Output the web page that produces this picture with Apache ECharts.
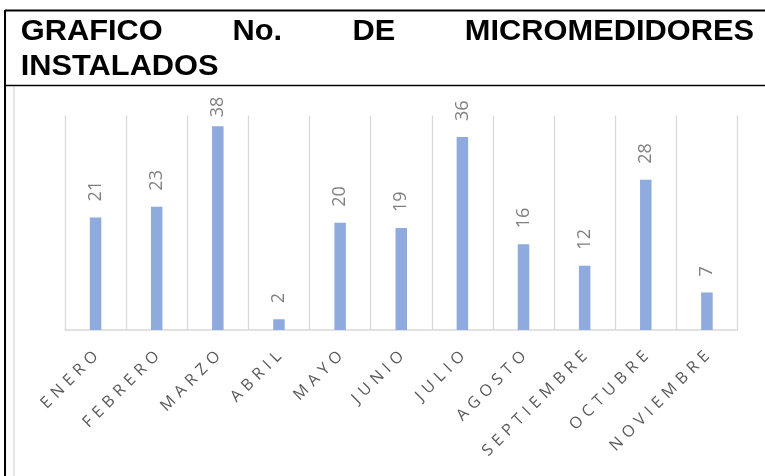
<!DOCTYPE html>
<html>
<head>
<meta charset="utf-8">
<script src="https://cdn.jsdelivr.net/npm/echarts@6/dist/echarts.min.js"></script>
<style>
html,body{margin:0;padding:0;background:#fff;}
#chart{width:765px;height:476px;}
</style>
</head>
<body>
<div id="chart"></div>
<script>
var categories = ['ENERO','FEBRERO','MARZO','ABRIL','MAYO','JUNIO','JULIO','AGOSTO','SEPTIEMBRE','OCTUBRE','NOVIEMBRE'];
var instalados = [21, 23, 38, 2, 20, 19, 36, 16, 12, 28, 7];
var titleLine1 = ['GRAFICO', 'No.', 'DE', 'MICROMEDIDORES'];
var titleLine2 = 'INSTALADOS';

var chart = echarts.init(document.getElementById('chart'));
var titleFont = 'bold 28px "Liberation Sans", Arial, sans-serif';
var maxVal = Math.max.apply(null, instalados);

function titleWord(text, x, y, align) {
  return {
    type: 'text', x: x, y: y, scaleX: 1.1, scaleY: 1.03,
    style: { text: text, x: 0, y: 0, font: titleFont, fill: '#000', textAlign: align, textVerticalAlign: 'middle' }
  };
}

var option = {
  animation: false,
  backgroundColor: '#ffffff',
  grid: { left: 65, right: 27.5, top: 115.5, bottom: 146, containLabel: false },
  xAxis: {
    type: 'category',
    data: categories,
    axisTick: { show: false },
    axisLine: { lineStyle: { color: '#d9d9d9', width: 1.5 } },
    splitLine: { show: true, lineStyle: { color: '#d9d9d9', width: 1.3 } },
    axisLabel: {
      interval: 0,
      rotate: 45,
      margin: 24,
      color: '#595959',
      fontSize: 16,
      fontFamily: '"Open Sans", sans-serif',
      formatter: function (v) { return v.split('').join('\u2004'); }
    }
  },
  yAxis: {
    type: 'value', min: 0, max: 40, show: false,
    splitLine: { show: false }
  },
  series: [{
    type: 'bar',
    data: instalados.map(function (v) {
      return v === maxVal ? { value: v, label: { distance: 9 } } : v;
    }),
    barWidth: 11.5,
    itemStyle: { color: '#8faadc' },
    label: {
      show: true,
      position: 'top',
      distance: 16,
      rotate: 90,
      align: 'left',
      verticalAlign: 'middle',
      fontSize: 18,
      color: '#7f7f7f',
      fontFamily: '"Open Sans", sans-serif'
    }
  }],
  graphic: [
    { type: 'line', shape: { x1: 5, y1: 10.5, x2: 765, y2: 10.5 }, style: { stroke: '#000', lineWidth: 2 } },
    { type: 'line', shape: { x1: 5, y1: 10, x2: 5, y2: 476 }, style: { stroke: '#000', lineWidth: 2 } },
    { type: 'line', shape: { x1: 5, y1: 85.5, x2: 765, y2: 85.5 }, style: { stroke: '#000', lineWidth: 1.5 } },
    { type: 'line', shape: { x1: 14, y1: 87, x2: 14, y2: 476 }, style: { stroke: '#d9d9d9', lineWidth: 1.3 } },
    titleWord(titleLine1[0], 20.7, 32, 'left'),
    titleWord(titleLine1[1], 232.5, 32, 'left'),
    titleWord(titleLine1[2], 352.5, 32, 'left'),
    titleWord(titleLine1[3], 754, 32, 'right'),
    titleWord(titleLine2, 20.7, 67.5, 'left')
  ]
};
chart.setOption(option);
</script>
</body>
</html>
